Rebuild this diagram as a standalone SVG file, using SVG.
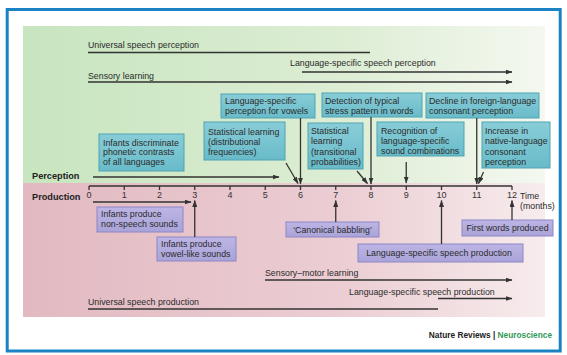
<svg xmlns="http://www.w3.org/2000/svg" width="567" height="355" viewBox="0 0 567 355">
<defs>
<linearGradient id="gGreen" x1="0" y1="0" x2="1" y2="0">
<stop offset="0" stop-color="#c7e5bf"/><stop offset="0.6" stop-color="#dcedd3"/><stop offset="1" stop-color="#f4f8f0"/>
</linearGradient>
<linearGradient id="gPink" x1="0" y1="0" x2="1" y2="0">
<stop offset="0" stop-color="#e2b9c1"/><stop offset="0.6" stop-color="#ebcdd3"/><stop offset="1" stop-color="#f7eced"/>
</linearGradient>
<linearGradient id="gTeal" x1="0" y1="0" x2="0" y2="1">
<stop offset="0" stop-color="#88cdd8"/><stop offset="1" stop-color="#69bbc9"/>
</linearGradient>
<linearGradient id="gLav" x1="0" y1="0" x2="0" y2="1">
<stop offset="0" stop-color="#bcb5e4"/><stop offset="1" stop-color="#aaa3d9"/>
</linearGradient>
<marker id="ah" markerUnits="userSpaceOnUse" markerWidth="7" markerHeight="5" refX="6.5" refY="2.5" orient="auto">
<path d="M0,0 L7,2.5 L0,5 z" fill="#333"/>
</marker>
</defs>
<style>
text{font-family:"Liberation Sans",Arial,sans-serif;fill:#2b2b2b;font-size:8.8px}
.lab{font-weight:bold;font-size:9.2px;fill:#222}
.num{font-size:9px;text-anchor:middle;fill:#333}
.tb{fill:url(#gTeal);stroke:#4fa3b3;stroke-width:1}
.lb{fill:url(#gLav);stroke:#8d86c6;stroke-width:1}
.ln{stroke:#333;stroke-width:1.3;fill:none}
.ar{stroke:#333;stroke-width:1.3;fill:none;marker-end:url(#ah)}
.mid{text-anchor:middle}
</style>
<rect x="0" y="0" width="567" height="355" fill="#ffffff"/>
<rect x="23" y="26" width="522" height="157" fill="url(#gGreen)"/>
<rect x="23" y="183" width="522" height="134" fill="url(#gPink)"/>
<rect x="7.2" y="9.5" width="553" height="341.5" fill="none" stroke="#1b82c4" stroke-width="3"/>

<g id="axis">
<line class="ln" x1="89" y1="186" x2="512" y2="186" stroke-width="1.5"/>
<path class="ln" d="M89,186V190 M124.25,186V190 M159.5,186V190 M194.75,186V190 M230,186V190 M265.25,186V190 M300.5,186V190 M335.75,186V190 M371,186V190 M406.25,186V190 M441.5,186V190 M476.75,186V190 M512,186V190"/>
<text class="num" x="89" y="198">0</text>
<text class="num" x="124.25" y="198">1</text>
<text class="num" x="159.5" y="198">2</text>
<text class="num" x="194.75" y="198">3</text>
<text class="num" x="230" y="198">4</text>
<text class="num" x="265.25" y="198">5</text>
<text class="num" x="300.5" y="198">6</text>
<text class="num" x="335.75" y="198">7</text>
<text class="num" x="371" y="198">8</text>
<text class="num" x="406.25" y="198">9</text>
<text class="num" x="441.5" y="198">10</text>
<text class="num" x="476.75" y="198">11</text>
<text class="num" x="512" y="198">12</text>
<text x="520" y="199">Time</text>
<text x="520" y="208.5">(months)</text>
</g>

<g id="label-perception"><text class="lab" x="32" y="179">Perception</text></g>
<g id="label-production"><text class="lab" x="32" y="199.5">Production</text></g>

<g id="lane-universal-perception"><text x="88" y="48">Universal speech perception</text></g>
<g id="lane-ls-perception"><text x="290" y="66">Language-specific speech perception</text></g>
<g id="lane-sensory"><text x="88" y="78.5">Sensory learning</text></g>
<g id="lane-sensory-motor"><text x="265" y="275.5">Sensory–motor learning</text></g>
<g id="lane-ls-production"><text x="349" y="295">Language-specific speech production</text></g>
<g id="lane-universal-production"><text x="88" y="305">Universal speech production</text></g>

<g id="b-discriminate"><rect class="tb" x="99" y="134" width="85" height="37"/>
<text x="103" y="145.5">Infants discriminate</text><text x="103" y="155">phonetic contrasts</text><text x="103" y="164.5">of all languages</text></g>
<g id="b-distributional"><rect class="tb" x="204" y="122" width="81" height="38"/>
<text x="208" y="135">Statistical learning</text><text x="208" y="145">(distributional</text><text x="208" y="155">frequencies)</text></g>
<g id="b-vowels"><rect class="tb" x="221" y="94" width="94" height="24"/>
<text x="225" y="104">Language-specific</text><text x="225" y="114">perception for vowels</text></g>
<g id="b-transitional"><rect class="tb" x="308" y="123" width="55" height="46"/>
<text x="311" y="133.5">Statistical</text><text x="311" y="144">learning</text><text x="311" y="154.5">(transitional</text><text x="311" y="164.5">probabilities)</text></g>
<g id="b-stress"><rect class="tb" x="322" y="93" width="100" height="24"/>
<text x="325" y="103.5">Detection of typical</text><text x="325" y="113.5">stress pattern in words</text></g>
<g id="b-recognition"><rect class="tb" x="377" y="122" width="87" height="34"/>
<text x="381" y="134">Recognition of</text><text x="381" y="144">language-specific</text><text x="381" y="154">sound combinations</text></g>
<g id="b-decline"><rect class="tb" x="426" y="93" width="113" height="25"/>
<text x="429" y="103.5">Decline in foreign-language</text><text x="429" y="113.5">consonant perception</text></g>
<g id="b-increase"><rect class="tb" x="482" y="122" width="68" height="46"/>
<text x="485" y="133.5">Increase in</text><text x="485" y="144">native-language</text><text x="485" y="154.5">consonant</text><text x="485" y="164.5">perception</text></g>

<g id="b-nonspeech"><rect class="lb" x="97" y="207" width="86" height="25"/>
<text x="101" y="217">Infants produce</text><text x="101" y="226.5">non-speech sounds</text></g>
<g id="b-vowellike"><rect class="lb" x="157" y="237" width="79" height="24"/>
<text x="161" y="246.5">Infants produce</text><text x="161" y="256.5">vowel-like sounds</text></g>
<g id="b-canonical"><rect class="lb" x="286" y="222" width="93" height="15"/>
<text class="mid" x="332.5" y="232.5">‘Canonical babbling’</text></g>
<g id="b-firstwords"><rect class="lb" x="462" y="220" width="91" height="16"/>
<text class="mid" x="507.5" y="231">First words produced</text></g>
<g id="b-lsproduction"><rect class="lb" x="358" y="244" width="165" height="18"/>
<text class="mid" x="439" y="256">Language-specific speech production</text></g>

<g id="connectors">
<line class="ln" x1="88" y1="52.5" x2="370" y2="52.5"/>
<line class="ar" x1="302" y1="72" x2="512" y2="72"/>
<line class="ar" x1="88" y1="82" x2="512" y2="82"/>
<line class="ar" x1="93" y1="177" x2="279" y2="177"/>
<line class="ar" x1="300.5" y1="118" x2="300.5" y2="184"/>
<line class="ar" x1="286" y1="163" x2="298" y2="183.5"/>
<line class="ar" x1="357" y1="171" x2="367.5" y2="183.5"/>
<line class="ar" x1="371" y1="117" x2="371" y2="184"/>
<line class="ar" x1="406.25" y1="162" x2="406.25" y2="183"/>
<line class="ar" x1="476.75" y1="118" x2="476.75" y2="184"/>
<line class="ar" x1="483.5" y1="172" x2="478.5" y2="183.5"/>
<line class="ar" x1="93" y1="202" x2="191" y2="202"/>
<line class="ar" x1="194.75" y1="237" x2="194.75" y2="200.5"/>
<line class="ar" x1="335.75" y1="222" x2="335.75" y2="200.5"/>
<line class="ar" x1="441.5" y1="244" x2="441.5" y2="200.5"/>
<line class="ar" x1="512" y1="220" x2="512" y2="200.5"/>
<line class="ar" x1="265" y1="280" x2="512" y2="280"/>
<line class="ar" x1="438" y1="298.5" x2="512" y2="298.5"/>
<line class="ln" x1="88" y1="309" x2="438" y2="309"/>
</g>

<g id="credit"><text x="552" y="338" style="text-anchor:end;font-weight:bold;font-size:8.3px"><tspan fill="#222">Nature Reviews | </tspan><tspan fill="#2f9a57">Neuroscience</tspan></text></g>
</svg>
